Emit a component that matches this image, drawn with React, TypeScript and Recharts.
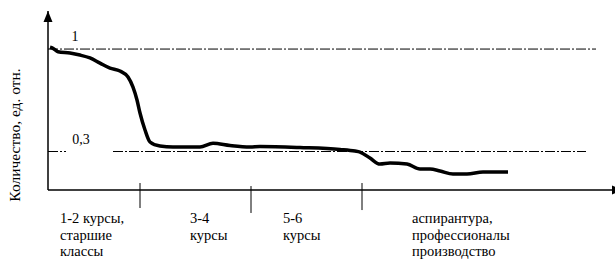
import React from 'react';
import { ComposedChart, Line, XAxis, YAxis, ReferenceLine, ReferenceDot } from 'recharts';

// progress along the education path (arbitrary units) and relative quantity
const progress = [2, 5, 10, 22, 32, 42, 52, 62, 72, 80, 85, 89, 92, 97, 102, 112, 125, 152, 165, 182, 202, 212, 252, 292, 307, 312, 322, 332, 342, 359, 372, 382, 392, 405, 419, 435, 460];
const quantity = [1.012, 1.005, 0.982, 0.973, 0.959, 0.939, 0.904, 0.87, 0.85, 0.809, 0.74, 0.652, 0.563, 0.447, 0.365, 0.337, 0.331, 0.331, 0.356, 0.341, 0.331, 0.334, 0.327, 0.314, 0.303, 0.296, 0.255, 0.214, 0.221, 0.214, 0.18, 0.18, 0.167, 0.146, 0.146, 0.16, 0.16];

const stageBoundaries = [92, 203, 314];
const stageLabelPos = [12, 142, 235, 364];
const stageLabels = [
  ['1-2 курсы,', 'старшие', 'классы'],
  ['3-4', 'курсы'],
  ['5-6', 'курсы'],
  ['аспирантура,', 'профессионалы', 'производство'],
];
const levelHigh = 1;
const levelLow = 0.3;
const xMax = 565;
const yMin = 0.037;
const yMax = 1.26;

const data = progress.map((t, i) => ({ t, v: quantity[i] }));

const FONT = '"Liberation Serif", "Times New Roman", serif';
const DASH = '10 2 2 2';

const StageTick = (props: any) => {
  const { x, y, payload, index } = props;
  const i = stageLabelPos.indexOf(payload.value);
  const lines = stageLabels[i >= 0 ? i : index] || [];
  const y0 = y + 25;
  return (
    <text x={x} y={y0} style={{ fontFamily: FONT }} fontSize={14.5} fill="#000" textAnchor="start">
      {lines.map((l: string, k: number) => (
        <tspan key={k} x={x} dy={k === 0 ? 0 : 16.7}>{l}</tspan>
      ))}
    </text>
  );
};

const LevelLabel = (text: string, offset: number) => (props: any) => {
  const { viewBox } = props;
  const cx = viewBox.x + (viewBox.width || 0) / 2;
  return (
    <text x={cx} y={viewBox.y - offset} textAnchor="middle" style={{ fontFamily: FONT }} fontSize={14} fill="#000">
      {text}
    </text>
  );
};

const UpArrow = (props: any) => {
  const { cx, cy } = props;
  return <path d={`M${cx},${cy} L${cx - 4.5},${cy + 11} L${cx + 4.5},${cy + 11} Z`} fill="#000" />;
};
const RightArrow = (props: any) => {
  const { cx, cy } = props;
  return <path d={`M${cx + 9},${cy} L${cx - 1},${cy - 4.5} L${cx - 1},${cy + 4.5} Z`} fill="#000" />;
};

export default function App() {
  return (
    <div style={{ position: 'absolute', left: 0, top: 0, background: '#fff' }}>
      <ComposedChart width={615} height={259} data={data} margin={{ top: 11, right: 2, bottom: 0, left: 0 }}>
        <XAxis
          dataKey="t"
          type="number"
          domain={[0, xMax]}
          ticks={stageLabelPos}
          interval={0}
          axisLine={{ stroke: '#000', strokeWidth: 1.5 }}
          tickLine={false}
          tick={<StageTick />}
          height={69}
          allowDataOverflow
        />
        <YAxis
          type="number"
          domain={[yMin, yMax]}
          width={48}
          axisLine={{ stroke: '#000', strokeWidth: 1.5 }}
          tick={false}
          tickLine={false}
          allowDataOverflow
          label={{
            content: () => (
              <text x={20} y={135} transform="rotate(-90 20 135)" textAnchor="middle" style={{ fontFamily: FONT }} fontSize={15.5} fill="#000">
                Количество, ед. отн.
              </text>
            ),
          }}
        />
        <ReferenceLine segment={[{ x: 0, y: levelHigh }, { x: 548, y: levelHigh }]} stroke="#000" strokeWidth={1} strokeDasharray={DASH} ifOverflow="visible" />
        <ReferenceLine segment={[{ x: 0, y: levelLow }, { x: 18, y: levelLow }]} stroke="#000" strokeWidth={1} strokeDasharray={DASH} ifOverflow="visible" />
        <ReferenceLine segment={[{ x: 65, y: levelLow }, { x: 538, y: levelLow }]} stroke="#000" strokeWidth={1} strokeDasharray={DASH} ifOverflow="visible" />
        <ReferenceLine segment={[{ x: stageBoundaries[0], y: 0.0847 }, { x: stageBoundaries[0], y: -0.086 }]} stroke="#000" strokeWidth={1} ifOverflow="visible" />
        <ReferenceLine segment={[{ x: stageBoundaries[1], y: 0.064 }, { x: stageBoundaries[1], y: -0.12 }]} stroke="#000" strokeWidth={1} ifOverflow="visible" />
        <ReferenceLine segment={[{ x: stageBoundaries[2], y: 0.0847 }, { x: stageBoundaries[2], y: -0.1 }]} stroke="#000" strokeWidth={1} ifOverflow="visible" />
        <ReferenceDot x={27} y={levelHigh} r={0} ifOverflow="visible" label={{ content: LevelLabel('1', 8) }} />
        <ReferenceDot x={33} y={levelLow} r={0} ifOverflow="visible" label={{ content: LevelLabel('0,3', 8) }} />
        <ReferenceDot x={0} y={yMax} ifOverflow="visible" shape={<UpArrow />} />
        <ReferenceDot x={xMax} y={yMin} ifOverflow="visible" shape={<RightArrow />} />
        <Line type="monotone" dataKey="v" stroke="#000" strokeWidth={3.5} dot={false} isAnimationActive={false} />
      </ComposedChart>
    </div>
  );
}
